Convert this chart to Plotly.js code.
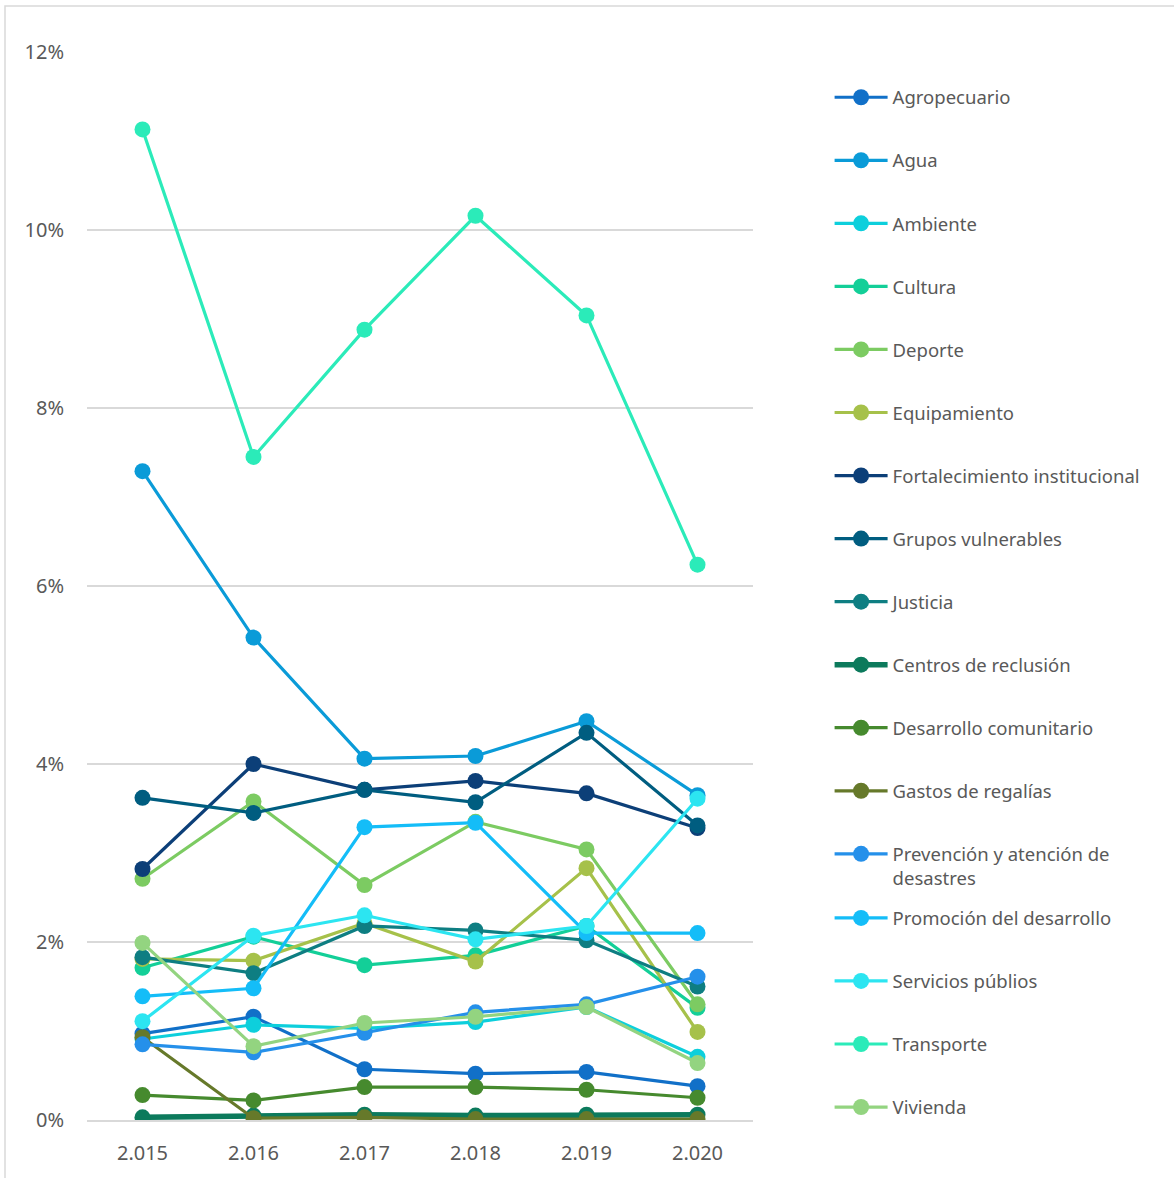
<!DOCTYPE html>
<html>
<head>
<meta charset="utf-8">
<script src="https://cdn.plot.ly/plotly-3.0.1.min.js"></script>
<style>
  html, body { margin: 0; padding: 0; background: #ffffff; }
  #chart { width: 1174px; height: 1178px; }
</style>
</head>
<body>
<div id="chart"></div>
<script>
// Categories (years, as printed on the axis)
const years = ["2.015", "2.016", "2.017", "2.018", "2.019", "2.020"];

// Series values, in percent
const agropecuario      = [0.97, 1.16, 0.57, 0.52, 0.54, 0.38];
const agua              = [7.29, 5.42, 4.06, 4.09, 4.48, 3.65];
const ambiente          = [0.91, 1.07, 1.03, 1.10, 1.27, 0.71];
const cultura           = [1.71, 2.06, 1.74, 1.85, 2.18, 1.26];
const deporte           = [2.71, 3.58, 2.64, 3.35, 3.04, 1.30];
const equipamiento      = [1.81, 1.79, 2.21, 1.78, 2.83, 0.99];
const fortalecimiento   = [2.82, 4.00, 3.71, 3.81, 3.67, 3.28];
const gruposVulnerables = [3.62, 3.45, 3.71, 3.57, 4.35, 3.31];
const justicia          = [1.83, 1.65, 2.18, 2.13, 2.02, 1.50];
const centrosReclusion  = [0.03, 0.05, 0.06, 0.05, 0.06, 0.06];
const desarrolloComun   = [0.28, 0.22, 0.37, 0.37, 0.34, 0.25];
const gastosRegalias    = [0.93, 0.02, 0.03, 0.01, 0.01, 0.01];
const prevencion        = [0.85, 0.76, 0.98, 1.21, 1.30, 1.61];
const promocion         = [1.39, 1.48, 3.29, 3.34, 2.10, 2.10];
const serviciosPublicos = [1.11, 2.07, 2.30, 2.03, 2.18, 3.61];
const transporte        = [11.13, 7.45, 8.88, 10.16, 9.04, 6.24];
const vivienda          = [1.99, 0.83, 1.09, 1.16, 1.27, 0.64];

const seriesNames = [
  "Agropecuario", "Agua", "Ambiente", "Cultura", "Deporte", "Equipamiento",
  "Fortalecimiento institucional", "Grupos vulnerables", "Justicia",
  "Centros de reclusión", "Desarrollo comunitario", "Gastos de regalías",
  "Prevención y atención de<br>desastres", "Promoción del desarrollo",
  "Servicios públios", "Transporte", "Vivienda"
];
const seriesValues = [
  agropecuario, agua, ambiente, cultura, deporte, equipamiento,
  fortalecimiento, gruposVulnerables, justicia, centrosReclusion,
  desarrolloComun, gastosRegalias, prevencion, promocion,
  serviciosPublicos, transporte, vivienda
];
const seriesColors = [
  "#1170C8", "#0A9BD8", "#0DCFDC", "#13CF98", "#7CCB62", "#A6C14A",
  "#0C3F78", "#005D80", "#0E7E82", "#0C7A5C", "#468A2E", "#66792A",
  "#2590EA", "#14BDF8", "#2CE5F1", "#2BEBB9", "#93D480"
];
const yTickVals = [0, 2, 4, 6, 8, 10, 12];
const yTickText = ["0%", "2%", "4%", "6%", "8%", "10%", "12%"];

const traces = seriesNames.map((name, i) => ({
  type: "scatter",
  mode: "lines+markers",
  name: name,
  x: years,
  y: seriesValues[i],
  legendgroup: "g" + i,
  legend: i < 13 ? "legend" : "legend2",
  line: { color: seriesColors[i], width: i === 9 ? 5.5 : 3.2 },
  marker: { color: seriesColors[i], size: 16 },
  hovertemplate: name + ": %{y:.2f}%<extra></extra>"
}));

const legendCommon = {
  xanchor: "left",
  yanchor: "top",
  valign: "top",
  tracegroupgap: 36,
  itemwidth: 53,
  bgcolor: "rgba(0,0,0,0)",
  font: { family: "Noto Sans, Open Sans, sans-serif", size: 18.5, color: "#595959" }
};

const layout = {
  width: 1174,
  height: 1178,
  margin: { l: 87, r: 421, t: 52, b: 58 },
  paper_bgcolor: "#ffffff",
  plot_bgcolor: "#ffffff",
  font: { family: "Noto Sans, Open Sans, sans-serif", color: "#595959" },
  xaxis: {
    type: "category",
    categoryorder: "array",
    categoryarray: years,
    range: [-0.5, 5.5],
    showgrid: false,
    showline: true,
    linecolor: "#d9d9d9",
    linewidth: 1.5,
    ticks: "",
    ticklabelstandoff: 14,
    tickfont: { size: 20, color: "#595959" },
    fixedrange: true
  },
  yaxis: {
    range: [0, 12],
    tickmode: "array",
    tickvals: yTickVals,
    ticktext: yTickText,
    showgrid: true,
    gridcolor: "#d9d9d9",
    gridwidth: 1.5,
    zeroline: false,
    showline: false,
    ticks: "",
    ticklabelstandoff: 22,
    tickfont: { size: 20, color: "#595959" },
    fixedrange: true
  },
  showlegend: true,
  legend: Object.assign({}, legendCommon, { x: 1.115, y: 0.975 }),
  legend2: Object.assign({}, legendCommon, { x: 1.115, y: 0.2066 }),
  shapes: [{
    type: "rect", xref: "paper", yref: "paper",
    x0: -82 / 666, x1: 1.7, y0: -0.06, y1: 1 + 46 / 1068,
    line: { color: "#d9d9d9", width: 1.5 }, fillcolor: "rgba(0,0,0,0)", layer: "below"
  }]
};

Plotly.newPlot("chart", traces, layout, { displayModeBar: false });
</script>
</body>
</html>
